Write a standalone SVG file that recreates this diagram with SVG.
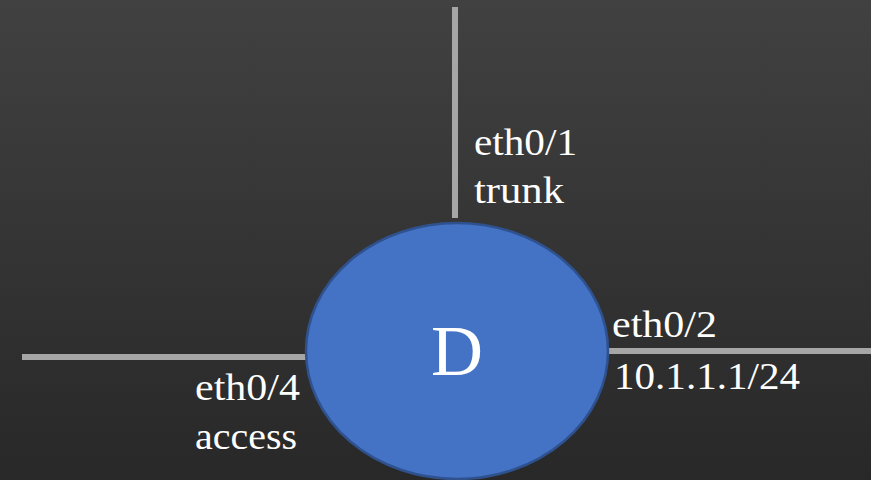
<svg xmlns="http://www.w3.org/2000/svg" width="871" height="480" viewBox="0 0 871 480">
  <defs>
    <linearGradient id="bg" x1="0" y1="0" x2="0" y2="1">
      <stop offset="0" stop-color="#414141"/>
      <stop offset="1" stop-color="#282828"/>
    </linearGradient>
  </defs>
  <style>
    text { font-family: "Liberation Serif", "Times New Roman", Tinos, "Nimbus Roman", "Nimbus Roman No9 L", FreeSerif, "Noto Serif", "DejaVu Serif", Georgia, serif; fill: #ffffff; }
    .link { stroke: #a6a6a6; stroke-width: 6; fill: none; }
    .lbl { font-size: 38px; }
    .node-shape { fill: #4472c4; stroke: #2f528f; stroke-width: 2.5; }
    .node-text { font-size: 72px; text-anchor: middle; }
  </style>
  <rect width="871" height="480" fill="url(#bg)"/>

  <g id="connectors">
    <line class="link" x1="455" y1="7" x2="455" y2="218"/>
    <line class="link" x1="22" y1="357" x2="307" y2="357"/>
    <line class="link" x1="607" y1="351" x2="871" y2="351"/>
  </g>

  <g id="node-D">
    <ellipse class="node-shape" cx="457" cy="351" rx="151" ry="128"/>
    <text class="node-text" x="457" y="375">D</text>
  </g>

  <g id="port-labels">
    <text class="lbl" x="474" y="155" textLength="103" lengthAdjust="spacingAndGlyphs">eth0/1</text>
    <text class="lbl" x="474" y="203" textLength="90" lengthAdjust="spacingAndGlyphs">trunk</text>
    <text class="lbl" x="195" y="400" textLength="105" lengthAdjust="spacingAndGlyphs">eth0/4</text>
    <text class="lbl" x="195" y="449" textLength="102" lengthAdjust="spacingAndGlyphs">access</text>
    <text class="lbl" x="612" y="337" textLength="105" lengthAdjust="spacingAndGlyphs">eth0/2</text>
    <text class="lbl" x="614" y="389" textLength="186" lengthAdjust="spacingAndGlyphs">10.1.1.1/24</text>
  </g>
</svg>
